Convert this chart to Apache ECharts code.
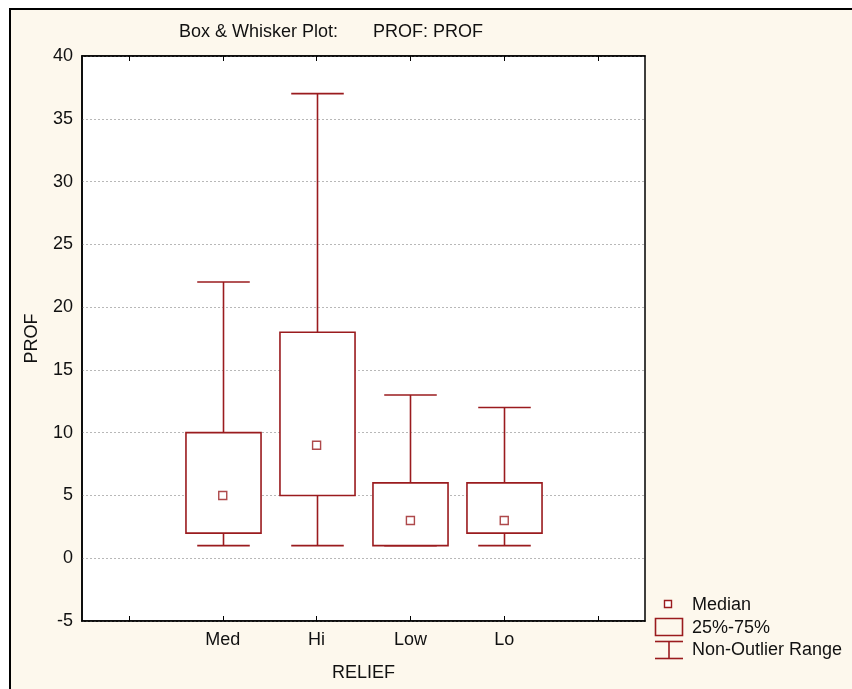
<!DOCTYPE html>
<html>
<head>
<meta charset="utf-8">
<script src="https://cdn.jsdelivr.net/npm/echarts@6/dist/echarts.min.js"></script>
<style>
html,body{margin:0;padding:0;background:#fff;}
#chart{width:852px;height:689px;}
</style>
</head>
<body>
<div id="chart"></div>
<script>
// Data
const categories = ['', 'Med', 'Hi', 'Low', 'Lo', ''];
const groups = ['Med', 'Hi', 'Low', 'Lo'];
const whiskerMin = [1, 1, 1, 1];
const q1 = [2, 5, 1, 2];
const medians = [5, 9, 3, 3];
const q3 = [10, 18, 6, 6];
const whiskerMax = [22, 37, 13, 12];
const yTicks = [-5, 0, 5, 10, 15, 20, 25, 30, 35, 40];

const RED = '#9a1b1e';
const FONT = '"Liberation Sans", Arial, sans-serif';
const FS = 18;

const boxData = groups.map((g, i) => [categories.indexOf(g), whiskerMin[i], q1[i], medians[i], q3[i], whiskerMax[i]]);
const medData = groups.map((g, i) => [categories.indexOf(g), medians[i]]);

const chart = echarts.init(document.getElementById('chart'), null, {renderer: 'canvas'});

function renderBox(params, api) {
  const x = api.value(0);
  const pMin = api.coord([x, api.value(1)]);
  const pQ1 = api.coord([x, api.value(2)]);
  const pQ3 = api.coord([x, api.value(4)]);
  const pMax = api.coord([x, api.value(5)]);
  const band = api.size([1, 0])[0];
  const bw = band * 0.8;
  const cw = band * 0.56;
  const cx = Math.round(pQ1[0]) + 0.5;
  const st = {stroke: RED, lineWidth: 1.6, fill: null};
  return {
    type: 'group',
    children: [
      {type: 'line', shape: {x1: cx, y1: pMax[1], x2: cx, y2: pQ3[1]}, style: st},
      {type: 'line', shape: {x1: cx - cw / 2, y1: pMax[1], x2: cx + cw / 2, y2: pMax[1]}, style: st},
      {type: 'line', shape: {x1: cx, y1: pQ1[1], x2: cx, y2: pMin[1]}, style: st},
      {type: 'line', shape: {x1: cx - cw / 2, y1: pMin[1], x2: cx + cw / 2, y2: pMin[1]}, style: st},
      {type: 'rect', shape: {x: cx - bw / 2, y: pQ3[1], width: bw, height: pQ1[1] - pQ3[1]}, style: {stroke: RED, lineWidth: 1.6, fill: '#fff'}}
    ]
  };
}

const option = {
  backgroundColor: '#ffffff',
  animation: false,
  title: [
    {text: 'Box & Whisker Plot:', left: 179, top: 23, padding: 0,
     textStyle: {fontFamily: FONT, fontSize: FS, fontWeight: 'normal', color: '#111'}},
    {text: 'PROF: PROF', left: 373, top: 23, padding: 0,
     textStyle: {fontFamily: FONT, fontSize: FS, fontWeight: 'normal', color: '#111'}}
  ],
  graphic: [
    {type: 'rect', z: -10, silent: true,
     shape: {x: 10, y: 9, width: 900, height: 750},
     style: {fill: '#fdf8ed', stroke: '#000', lineWidth: 2}},
    {type: 'rect', z: 100, shape: {x: 664.5, y: 600.5, width: 7, height: 7}, style: {fill: '#fff', stroke: RED, lineWidth: 1.4}},
    {type: 'rect', z: 100, shape: {x: 655.5, y: 618.5, width: 27, height: 17}, style: {fill: null, stroke: RED, lineWidth: 1.6}},
    {type: 'line', z: 100, shape: {x1: 655, y1: 641.5, x2: 683, y2: 641.5}, style: {stroke: RED, lineWidth: 1.6}},
    {type: 'line', z: 100, shape: {x1: 655, y1: 658.5, x2: 683, y2: 658.5}, style: {stroke: RED, lineWidth: 1.6}},
    {type: 'line', z: 100, shape: {x1: 669, y1: 641.5, x2: 669, y2: 658.5}, style: {stroke: RED, lineWidth: 1.6}},
    {type: 'text', z: 100, x: 692, y: 605, style: {text: 'Median', font: FS + 'px ' + FONT, fill: '#111', textVerticalAlign: 'middle'}},
    {type: 'text', z: 100, x: 692, y: 628, style: {text: '25%-75%', font: FS + 'px ' + FONT, fill: '#111', textVerticalAlign: 'middle'}},
    {type: 'text', z: 100, x: 692, y: 650, style: {text: 'Non-Outlier Range', font: FS + 'px ' + FONT, fill: '#111', textVerticalAlign: 'middle'}}
  ],
  grid: {left: 82, top: 56, right: 207, bottom: 68, show: true, backgroundColor: '#fff', borderColor: '#000', borderWidth: 1.5, containLabel: false},
  xAxis: [
    {type: 'category', data: categories, boundaryGap: true, position: 'bottom',
     name: 'RELIEF', nameLocation: 'middle', nameGap: 43,
     nameTextStyle: {fontFamily: FONT, fontSize: FS, color: '#111'},
     axisLine: {onZero: false, lineStyle: {color: '#000', width: 1.5}},
     axisTick: {show: true, inside: true, alignWithLabel: true, interval: 0, length: 5, lineStyle: {color: '#000'}},
     axisLabel: {interval: 0, margin: 10, fontFamily: FONT, fontSize: FS, color: '#111'},
     splitLine: {show: false}},
    {type: 'category', data: categories, boundaryGap: true, position: 'top',
     axisLine: {onZero: false, lineStyle: {color: '#000', width: 1.5}},
     axisTick: {show: true, inside: true, alignWithLabel: true, interval: 0, length: 5, lineStyle: {color: '#000'}},
     axisLabel: {show: false}, splitLine: {show: false}}
  ],
  yAxis: {
    type: 'value', min: yTicks[0], max: yTicks[yTicks.length - 1], interval: 5,
    name: 'PROF', nameLocation: 'middle', nameGap: 41,
    nameTextStyle: {fontFamily: FONT, fontSize: FS, color: '#111'},
    axisLine: {show: true, lineStyle: {color: '#000', width: 1.5}},
    axisTick: {show: false},
    axisLabel: {margin: 9, fontFamily: FONT, fontSize: FS, color: '#111'},
    splitLine: {show: true, lineStyle: {color: '#b8b8b8', type: [2, 2], width: 1}}
  },
  series: [
    {type: 'custom', name: '25%-75%', renderItem: renderBox, data: boxData, encode: {x: 0, y: [1, 2, 3, 4, 5]}, z: 5},
    {type: 'scatter', name: 'Median', data: medData, symbol: 'rect', symbolSize: 8,
     itemStyle: {color: '#fff', borderColor: RED, borderWidth: 1.4}, z: 10}
  ]
};
chart.setOption(option);
</script>
</body>
</html>
